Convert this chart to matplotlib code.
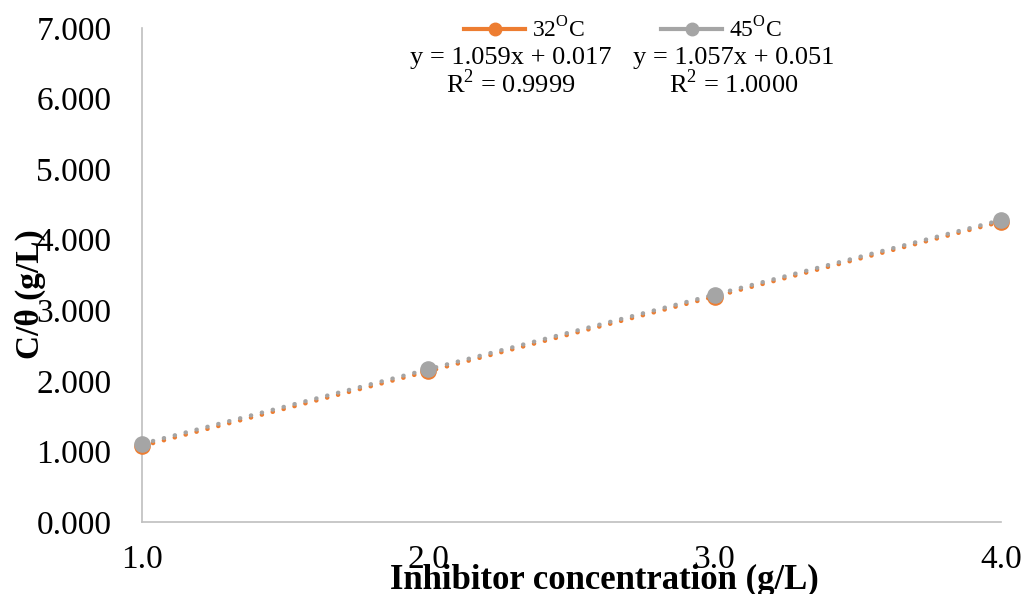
import matplotlib.pyplot as plt
import numpy as np
from matplotlib.lines import Line2D

conc = [1.0, 2.0, 3.0, 4.0]
y_32 = [1.076, 2.135, 3.194, 4.253]
y_45 = [1.108, 2.165, 3.222, 4.279]
labels = ['32$^{\\mathregular{O}}$C', '45$^{\\mathregular{O}}$C']
eqs = ['y = 1.059x + 0.017\nR$^{\\mathregular{2}}$ = 0.9999',
       'y = 1.057x + 0.051\nR$^{\\mathregular{2}}$ = 1.0000']

orange = '#ED7D31'
gray = '#A5A5A5'

plt.rcParams['font.family'] = ['Liberation Serif', 'DejaVu Serif']
plt.rcParams['mathtext.fontset'] = 'custom'
plt.rcParams['mathtext.rm'] = 'Liberation Serif'

fig = plt.figure(figsize=(10.25, 5.94), dpi=100)
ax = fig.add_axes([0.1385, 0.1212, 0.838, 0.8317])

# dotted linear trendlines + markers
for ys, c in [(y_32, orange), (y_45, gray)]:
    k, b = np.polyfit(conc, ys, 1)
    xs = np.array([conc[0], conc[-1]])
    ax.plot(xs, k * xs + b, linestyle=(0, (0.1, 2.6)), color=c, lw=3,
            dash_capstyle='round', clip_on=False)
    ax.scatter(conc, ys, s=120, color=c, zorder=3, clip_on=False)

ax.set_xlim(1, 4)
ax.set_ylim(0, 7)
ax.set_xticks(conc)
ax.set_xticklabels(['%.1f' % v for v in conc])
ax.set_yticks(range(8))
ax.set_yticklabels(['%.3f' % v for v in range(8)])
ax.tick_params(length=0, labelsize=24)
ax.tick_params(axis='x', pad=16)
ax.tick_params(axis='y', pad=22)
for s in ['top', 'right']:
    ax.spines[s].set_visible(False)
for s in ['left', 'bottom']:
    ax.spines[s].set_color('#BFBFBF')
    ax.spines[s].set_linewidth(1.2)

fig.text(0.59, 0.022, 'Inhibitor concentration (g/L)', ha='center', va='center',
         fontsize=25, fontweight='bold')
fig.text(0.03, 0.505, 'C/θ (g/L)', ha='center', va='center', rotation=90,
         fontsize=24, fontweight='bold')

handles = [Line2D([], [], color=orange, marker='o', lw=3, markersize=9),
           Line2D([], [], color=gray, marker='o', lw=3, markersize=9)]
fig.legend(handles, labels, loc='center', bbox_to_anchor=(0.608, 0.95), ncol=2,
           frameon=False, fontsize=17, handlelength=2.6, columnspacing=3.2,
           handletextpad=0.3)

fig.text(0.498, 0.878, eqs[0], ha='center', va='center', fontsize=19, linespacing=1.05)
fig.text(0.716, 0.878, eqs[1], ha='center', va='center', fontsize=19, linespacing=1.05)

fig.savefig('out.png', dpi=100)
